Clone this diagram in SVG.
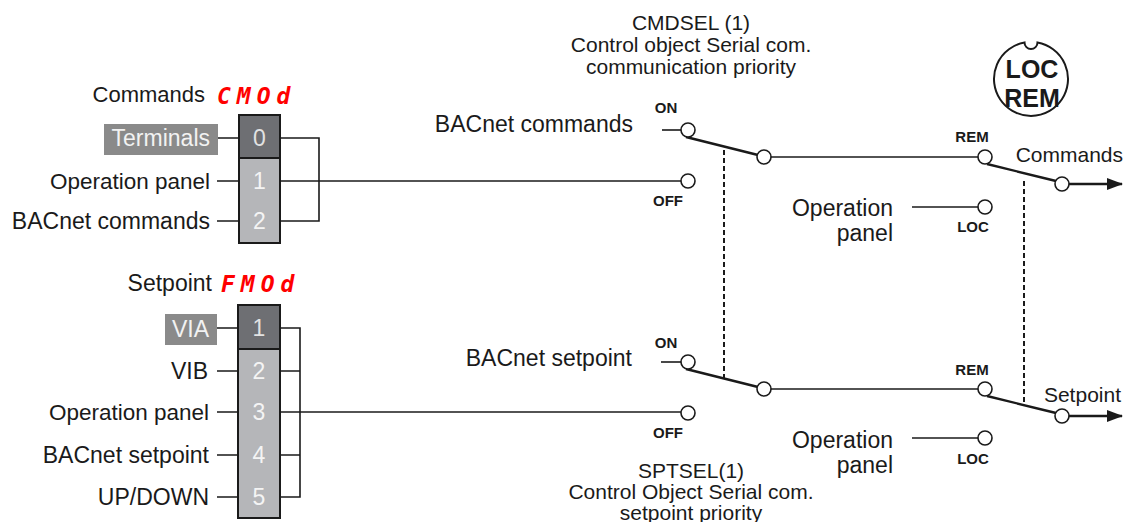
<svg xmlns="http://www.w3.org/2000/svg" width="1127" height="522" viewBox="0 0 1127 522">
<style>
text{font-family:"Liberation Sans",Arial,sans-serif;fill:#1a1a1a}
.lbl{font-size:23px}
.r{text-anchor:end}
.c{text-anchor:middle}
.sm{font-size:15px;font-weight:bold}
.ttl{font-size:21px;text-anchor:middle}
.out{font-size:21px;text-anchor:end}
.num{font-size:23px;fill:#f4f4f4;text-anchor:middle}
.seg{font-family:"DejaVu Sans Mono",monospace;font-weight:bold;font-style:italic;fill:#ff0000;font-size:23px;letter-spacing:6px}
.tag{fill:#8a8a8a}
.tagt{font-size:23px;fill:#f2f2f2;text-anchor:end}
.dark{fill:#6e6f73;stroke:#1a1a1a;stroke-width:2}
.light{fill:#b5b6b9;stroke:#1a1a1a;stroke-width:2}
.ln{stroke:#1a1a1a;stroke-width:1.6;fill:none}
.blade{stroke:#1a1a1a;stroke-width:2.4;fill:none}
.contact{fill:#fff;stroke:#1a1a1a;stroke-width:1.6}
.dash{stroke:#1a1a1a;stroke-width:2;stroke-dasharray:5 3;fill:none}
.arrow{stroke:#1a1a1a;stroke-width:2.4;fill:none;marker-end:url(#ah)}
.key{font-size:25px;font-weight:bold;text-anchor:middle}
</style>
<defs>
<marker id="ah" viewBox="0 0 16 12" refX="15" refY="6" markerWidth="16" markerHeight="12" markerUnits="userSpaceOnUse" orient="auto">
<path d="M0 0 L16 6 L0 12 Z" fill="#1a1a1a"/>
</marker>
</defs>

<g id="connectors">
<path class="ln" d="M278 138 H319 V221 H280"/>
<path class="ln" d="M280 181 H681"/>
<path class="ln" d="M280 328 H300 V497 H280 M280 371 H300 M280 455 H300"/>
<path class="ln" d="M280 412 H681"/>
<path class="ln" d="M771 157 H978"/>
<path class="ln" d="M771 389 H978"/>
<path class="dash" d="M724 150 V378"/>
<path class="dash" d="M1024 181 V406"/>
</g>

<g id="cmod-selector">
<text class="lbl r" x="205" y="102" style="font-size:22px">Commands</text>
<text class="seg" x="217" y="104">CMOd</text>
<rect class="light" x="239" y="158" width="41" height="85"/>
<rect class="dark" x="239" y="115" width="41" height="43"/>
<text class="num" x="259.5" y="146" style="fill:#e2e2e2">0</text>
<text class="num" x="259.5" y="189">1</text>
<text class="num" x="259.5" y="229">2</text>
<rect class="tag" x="104" y="124" width="114" height="31"/>
<text class="tagt" x="210" y="146">Terminals</text>
<text class="lbl r" x="210" y="189" style="font-size:22.5px">Operation panel</text>
<text class="lbl r" x="210" y="229">BACnet commands</text>
<path class="ln" d="M218 138 H239 M217 181 H239 M217 221 H239"/>
</g>

<g id="fmod-selector">
<text class="lbl r" x="212" y="291">Setpoint</text>
<text class="seg" x="221" y="292">FMOd</text>
<rect class="light" x="238" y="349" width="42" height="169"/>
<rect class="dark" x="238" y="305" width="42" height="44"/>
<text class="num" x="259" y="336" style="fill:#e2e2e2">1</text>
<text class="num" x="259" y="379">2</text>
<text class="num" x="259" y="420">3</text>
<text class="num" x="259" y="463">4</text>
<text class="num" x="259" y="505">5</text>
<rect class="tag" x="165" y="314" width="52" height="31"/>
<text class="tagt" x="209" y="337">VIA</text>
<text class="lbl r" x="208" y="379">VIB</text>
<text class="lbl r" x="209" y="420" style="font-size:22.5px">Operation panel</text>
<text class="lbl r" x="209" y="463">BACnet setpoint</text>
<text class="lbl r" x="209" y="505">UP/DOWN</text>
<path class="ln" d="M217 328 H238 M217 371 H238 M217 412 H238 M217 455 H238 M217 497 H238"/>
</g>

<g id="cmdsel-switch">
<text class="ttl" x="691" y="30">CMDSEL (1)</text>
<text class="ttl" x="691" y="52">Control object Serial com.</text>
<text class="ttl" x="691" y="74">communication priority</text>
<text class="lbl r" x="633" y="132">BACnet commands</text>
<path class="ln" d="M662 130 H681"/>
<path class="blade" d="M686 137 L758 155"/>
<circle class="contact" cx="688" cy="130" r="7"/>
<circle class="contact" cx="688" cy="181" r="7"/>
<circle class="contact" cx="764" cy="157" r="7"/>
<text class="sm c" x="666" y="113">ON</text>
<text class="sm c" x="668" y="206">OFF</text>
</g>

<g id="sptsel-switch">
<text class="ttl" x="691" y="478">SPTSEL(1)</text>
<text class="ttl" x="691" y="499">Control Object Serial com.</text>
<text class="ttl" x="691" y="520">setpoint priority</text>
<text class="lbl r" x="632" y="366">BACnet setpoint</text>
<path class="ln" d="M661 362 H681"/>
<path class="blade" d="M686 369 L758 387"/>
<circle class="contact" cx="688" cy="362" r="7"/>
<circle class="contact" cx="688" cy="413" r="7"/>
<circle class="contact" cx="764" cy="389" r="7"/>
<text class="sm c" x="666" y="348">ON</text>
<text class="sm c" x="668" y="438">OFF</text>
</g>

<g id="locrem-commands-switch">
<text class="lbl r" x="893" y="216">Operation</text>
<text class="lbl r" x="893" y="241">panel</text>
<path class="ln" d="M912 207 H978"/>
<path class="blade" d="M987 164 L1056 181"/>
<path class="arrow" d="M1069 184 H1122"/>
<circle class="contact" cx="985" cy="157" r="7"/>
<circle class="contact" cx="985" cy="207" r="7"/>
<circle class="contact" cx="1062" cy="184" r="7"/>
<text class="sm c" x="972" y="142">REM</text>
<text class="sm c" x="973" y="232">LOC</text>
<text class="out" x="1123" y="162">Commands</text>
</g>

<g id="locrem-setpoint-switch">
<text class="lbl r" x="893" y="448">Operation</text>
<text class="lbl r" x="893" y="473">panel</text>
<path class="ln" d="M912 438 H978"/>
<path class="blade" d="M987 396 L1056 413"/>
<path class="arrow" d="M1069 416 H1122"/>
<circle class="contact" cx="985" cy="389" r="7"/>
<circle class="contact" cx="985" cy="438" r="7"/>
<circle class="contact" cx="1062" cy="416" r="7"/>
<text class="sm c" x="972" y="375">REM</text>
<text class="sm c" x="973" y="464">LOC</text>
<text class="out" x="1121" y="402">Setpoint</text>
</g>

<g id="locrem-key">
<path d="M1024.5 42.5 A6.5 6.5 0 0 0 1037.5 42.5 A37 37 0 1 1 1024.5 42.5 Z" fill="#fff" stroke="#1a1a1a" stroke-width="2"/>
<text class="key" x="1032" y="78">LOC</text>
<text class="key" x="1032" y="106.5">REM</text>
</g>
</svg>
